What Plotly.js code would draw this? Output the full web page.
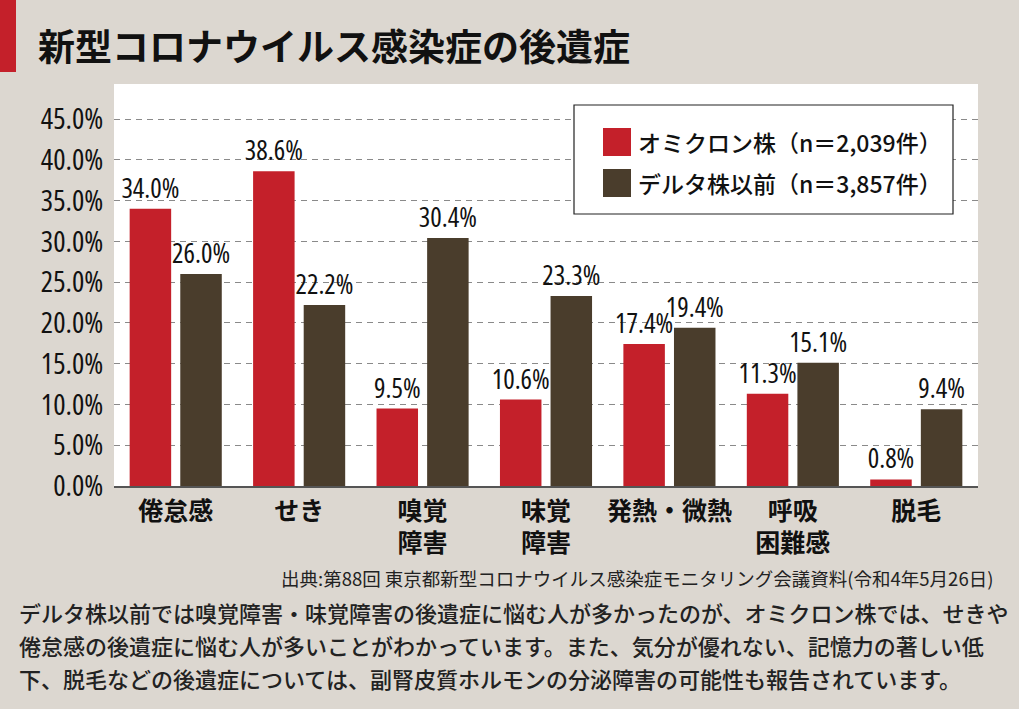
<!DOCTYPE html>
<html>
<head>
<meta charset="utf-8">
<script src="https://cdn.plot.ly/plotly-3.0.1.min.js"></script>
<style>
html,body{margin:0;padding:0;background:#dcd7d0;}
#chart{width:1019px;height:709px;}
#chart g.ytick text, #chart text.bartext { font-stretch: 75% !important; }
</style>
</head>
<body>
<div id="chart"></div>
<script>
// ---- data ----
const categories = ['倦怠感','せき','嗅覚障害','味覚障害','発熱・微熱','呼吸困難感','脱毛'];
const tickLabels = ['倦怠感','せき','嗅覚<br>障害','味覚<br>障害','発熱・微熱','呼吸<br>困難感','脱毛'];
const omicron = [34.0, 38.6, 9.5, 10.6, 17.4, 11.3, 0.8];
const delta = [26.0, 22.2, 30.4, 23.3, 19.4, 15.1, 9.4];
const seriesNames = ['オミクロン株（n＝2,039件）', 'デルタ株以前（n＝3,857件）'];
const seriesColors = ['#c4202a', '#4a3d2c'];
const yTicks = [0,5,10,15,20,25,30,35,40,45];
const yTickText = ['0.0%','5.0%','10.0%','15.0%','20.0%','25.0%','30.0%','35.0%','40.0%','45.0%'];
const titleText = '新型コロナウイルス感染症の後遺症';
const sourceText = '出典:第88回 東京都新型コロナウイルス感染症モニタリング会議資料(令和4年5月26日)';
const bodyLines = [
  'デルタ株以前では嗅覚障害・味覚障害の後遺症に悩む人が多かったのが、オミクロン株では、せきや',
  '倦怠感の後遺症に悩む人が多いことがわかっています。また、気分が優れない、記憶力の著しい低',
  '下、脱毛などの後遺症については、副腎皮質ホルモンの分泌障害の可能性も報告されています。'
];

const numFont = 'Open Sans, DejaVu Sans Condensed, sans-serif';
const jpFont = 'Noto Sans CJK JP, sans-serif';

// plot area in pixels
const L = 114, R = 41, T = 84, B = 223, W = 1019, H = 709;
const pw = W - L - R, ph = H - T - B;
const px = x => (x - L) / pw;
const py = y => (H - B - y) / ph;

const values = [omicron, delta];
const traces = values.map((v, i) => ({
  type: 'bar',
  name: seriesNames[i],
  x: categories,
  y: v,
  marker: {color: seriesColors[i]},
  texttemplate: '%{y:.1f}%',
  textposition: 'outside',
  constraintext: 'none',
  cliponaxis: false,
  textfont: {family: numFont, size: 27, color: '#111'},
  hoverinfo: 'skip'
}));

// manual legend
const shapes = [
  {type:'rect', xref:'paper', yref:'paper', x0:px(0), x1:px(16), y0:py(72), y1:py(0), fillcolor:'#c4202a', line:{width:0}},
  {type:'rect', xref:'paper', yref:'paper', x0:px(574), x1:px(953), y0:py(214), y1:py(105), fillcolor:'#ffffff', line:{color:'#222', width:1.2}}
];
const annotations = [];
seriesNames.forEach((n, i) => {
  const cy = 142 + i * 41;
  shapes.push({type:'rect', xref:'paper', yref:'paper', x0:px(603), x1:px(631), y0:py(cy+14), y1:py(cy-14), fillcolor:seriesColors[i], line:{width:0}});
  annotations.push({xref:'paper', yref:'paper', x:px(636), y:py(cy), xanchor:'left', yanchor:'middle', showarrow:false,
    text:n, font:{family:jpFont, size:23, color:'#111', weight:500}});
});
annotations.push({xref:'paper', yref:'paper', x:px(995), y:py(578), xanchor:'right', yanchor:'middle', showarrow:false,
  text:sourceText, font:{family:jpFont, size:18.5, color:'#222'}});
bodyLines.forEach((t, i) => {
  annotations.push({xref:'paper', yref:'paper', x:px(17), y:py(612 + i*33), xanchor:'left', yanchor:'middle', showarrow:false,
    text:t, font:{family:jpFont, size:22, color:'#222', weight:500}});
});

const layout = {
  width: W, height: H,
  paper_bgcolor: '#dcd7d0',
  plot_bgcolor: '#ffffff',
  margin: {l:L, r:R, t:T, b:B, pad:0},
  showlegend: false,
  barmode: 'group',
  bargap: 0.18,
  bargroupgap: 0.18,
  title: {text: titleText, xref:'container', yref:'container', x: 38/W, xanchor:'left', y: 1 - 48/H, yanchor:'middle',
    font:{family: jpFont, size: 37, color:'#111', weight: 'bold'}},
  xaxis: {
    tickvals: categories, ticktext: tickLabels,
    tickfont: {family: jpFont, size: 25, color:'#111', weight:'bold'},
    showline: true, linecolor:'#555', linewidth: 1.5,
    ticks: 'outside', ticklen: 2, tickcolor: 'rgba(0,0,0,0)',
    showgrid: false, fixedrange: true
  },
  yaxis: {
    range: [0, 49.3],
    tickvals: yTicks, ticktext: yTickText,
    tickfont: {family: numFont, size: 29, color:'#111'},
    showgrid: true, gridcolor:'#8a8a8a', gridwidth: 1, griddash: '6px,5px',
    zeroline: false,
    ticks: 'outside', ticklen: 4, tickcolor: 'rgba(0,0,0,0)',
    fixedrange: true
  },
  shapes: shapes,
  annotations: annotations
};

Plotly.newPlot('chart', traces, layout, {displayModeBar: false, staticPlot: true});
</script>
</body>
</html>
